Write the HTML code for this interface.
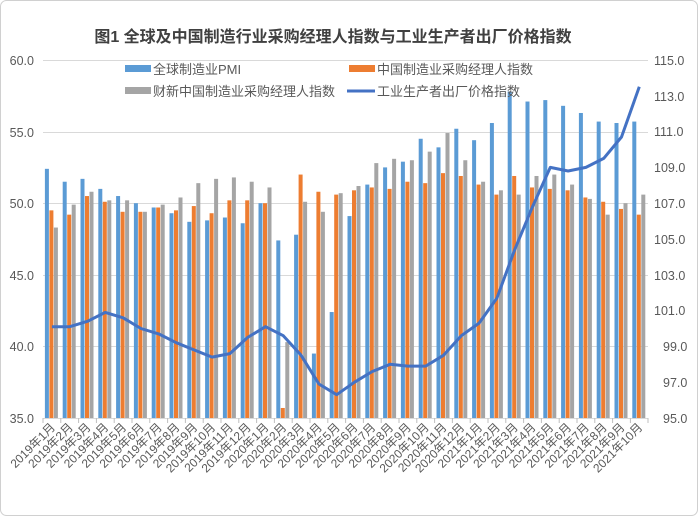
<!DOCTYPE html>
<html><head><meta charset="utf-8">
<style>
html,body{margin:0;padding:0;background:#fff;}
svg{display:block;font-family:"Liberation Sans","Noto Sans CJK SC",sans-serif;}
</style></head>
<body>
<svg id="c" width="698" height="516" viewBox="0 0 698 516" xmlns="http://www.w3.org/2000/svg">
<rect x="0.5" y="0.5" width="697" height="515" rx="6" fill="#fff" stroke="#d0d0d0"/>
<text x="333" y="42" text-anchor="middle" font-size="16" font-weight="bold" fill="#404040">图1 全球及中国制造行业采购经理人指数与工业生产者出厂价格指数</text>
<g stroke="#d9d9d9" stroke-width="1">
<line x1="43" x2="648" y1="60.5" y2="60.5"/><line x1="43" x2="648" y1="132.5" y2="132.5"/>
<line x1="43" x2="648" y1="203.5" y2="203.5"/><line x1="43" x2="648" y1="275.5" y2="275.5"/>
<line x1="43" x2="648" y1="346.5" y2="346.5"/><line x1="43" x2="648" y1="418.5" y2="418.5"/>
</g>
<g id="bars"></g>
<g id="ticks" stroke="#bfbfbf"></g>
<g font-size="12.5" fill="#595959" text-anchor="end">
<text x="34" y="65">60.0</text><text x="34" y="137">55.0</text><text x="34" y="208">50.0</text>
<text x="34" y="280">45.0</text><text x="34" y="351">40.0</text><text x="34" y="423">35.0</text>
</g>
<g font-size="12.5" fill="#595959" text-anchor="start">
<text x="654" y="65">115.0</text><text x="654" y="101">113.0</text><text x="654" y="136">111.0</text>
<text x="654" y="172">109.0</text><text x="654" y="208">107.0</text><text x="654" y="244">105.0</text>
<text x="654" y="280">103.0</text><text x="654" y="315">101.0</text><text x="663" y="351">99.0</text>
<text x="663" y="387">97.0</text><text x="663" y="423">95.0</text>
</g>
<!-- legend -->
<rect x="125" y="65" width="26" height="7" fill="#5b9bd5"/>
<text x="153" y="74" font-size="13" fill="#595959">全球制造业PMI</text>
<rect x="349" y="65" width="26" height="7" fill="#ed7d31"/>
<text x="377" y="74" font-size="13" fill="#595959">中国制造业采购经理人指数</text>
<rect x="125" y="87" width="26" height="7" fill="#a5a5a5"/>
<text x="153" y="96" font-size="13" fill="#595959">财新中国制造业采购经理人指数</text>
<line x1="347" x2="375" y1="91" y2="91" stroke="#4472c4" stroke-width="3"/>
<text x="377" y="96" font-size="13" fill="#595959">工业生产者出厂价格指数</text>
<polyline id="ppi" fill="none" stroke="#4472c4" stroke-width="3" stroke-linejoin="round"/>
<g id="xl" font-size="12" fill="#595959" text-anchor="end">
<text>2019年1月</text><text>2019年2月</text><text>2019年3月</text><text>2019年4月</text><text>2019年5月</text><text>2019年6月</text><text>2019年7月</text><text>2019年8月</text><text>2019年9月</text><text>2019年10月</text><text>2019年11月</text><text>2019年12月</text>
<text>2020年1月</text><text>2020年2月</text><text>2020年3月</text><text>2020年4月</text><text>2020年5月</text><text>2020年6月</text><text>2020年7月</text><text>2020年8月</text><text>2020年9月</text><text>2020年10月</text><text>2020年11月</text><text>2020年12月</text>
<text>2021年1月</text><text>2021年2月</text><text>2021年3月</text><text>2021年4月</text><text>2021年5月</text><text>2021年6月</text><text>2021年7月</text><text>2021年8月</text><text>2021年9月</text><text>2021年10月</text>
</g>
</svg>
<script>
var G=[52.4,51.5,51.7,51.0,50.5,50.0,49.7,49.3,48.7,48.8,49.0,48.6,50.0,47.4,47.8,39.5,42.4,49.1,51.3,52.5,52.9,54.5,53.9,55.2,54.4,55.6,57.8,57.1,57.2,56.8,56.3,55.7,55.6,55.7];
var C=[49.5,49.2,50.5,50.1,49.4,49.4,49.7,49.5,49.8,49.3,50.2,50.2,50.0,35.7,52.0,50.8,50.6,50.9,51.1,51.0,51.5,51.4,52.1,51.9,51.3,50.6,51.9,51.1,51.0,50.9,50.4,50.1,49.6,49.2];
var X=[48.3,49.9,50.8,50.2,50.2,49.4,49.9,50.4,51.4,51.7,51.8,51.5,51.1,40.3,50.1,49.4,50.7,51.2,52.8,53.1,53.0,53.6,54.9,53.0,51.5,50.9,50.6,51.9,52.0,51.3,50.3,49.2,50.0,50.6];
var P=[100.1,100.1,100.4,100.9,100.6,100.0,99.7,99.2,98.8,98.4,98.6,99.5,100.1,99.6,98.5,96.9,96.3,97.0,97.6,98.0,97.9,97.9,98.5,99.6,100.3,101.7,104.4,106.8,109.0,108.8,109.0,109.5,110.7,113.5];
var ns="http://www.w3.org/2000/svg",b=document.getElementById('bars'),t=document.getElementById('ticks');
var step=17.8,x0=43;
function ly(v){return 60+(60-v)*14.32;}
function ry(v){return 60+(115-v)*17.9;}
function r(x,v,c){var e=document.createElementNS(ns,'rect');var y=ly(v);e.setAttribute('x',x);e.setAttribute('y',y);e.setAttribute('width',4);e.setAttribute('height',418-y);e.setAttribute('fill',c);b.appendChild(e);}
var pts=[],xl=document.getElementById('xl').children;
for(var i=0;i<34;i++){var cx=x0+step*(i+0.5);
r(cx-7,G[i],'#5b9bd5');r(cx-2.5,C[i],'#ed7d31');r(cx+2,X[i],'#a5a5a5');
pts.push(cx.toFixed(1)+','+ry(P[i]).toFixed(1));
var l=document.createElementNS(ns,'line');var tx=x0+step*i;l.setAttribute('x1',tx);l.setAttribute('x2',tx);l.setAttribute('y1',418);l.setAttribute('y2',423);t.appendChild(l);
xl[i].setAttribute('transform','translate('+(cx+4).toFixed(1)+',428) rotate(-45)');}
var l=document.createElementNS(ns,'line');l.setAttribute('x1',648);l.setAttribute('x2',648);l.setAttribute('y1',418);l.setAttribute('y2',423);t.appendChild(l);
document.getElementById('ppi').setAttribute('points',pts.join(' '));
</script>
</body></html>
